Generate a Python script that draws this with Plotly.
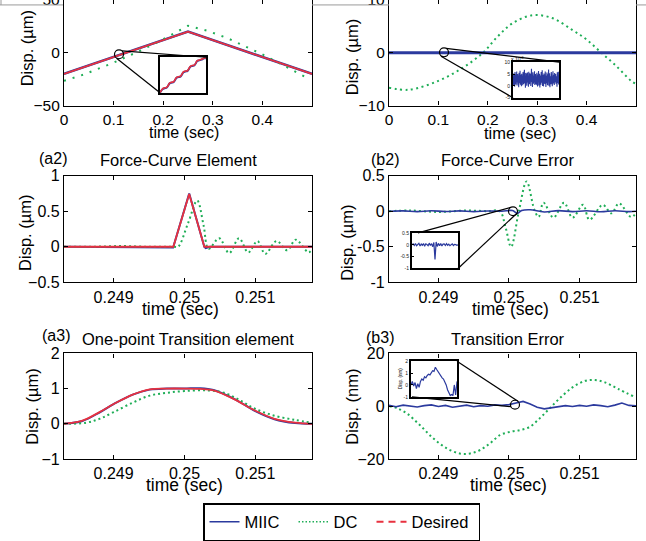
import plotly.graph_objects as go

W, H = 646, 541
def px(x): return x / W
def py(y): return 1 - y / H

BLUE = '#2b3a9e'
GREEN = '#1fae57'
RED = '#e8313f'
FONT = 'Liberation Sans, Arial, Helvetica, sans-serif'

# ---------------- data ----------------
# (a1) triangle reference
t_a1 = [0, 0.25, 0.5]
desired_a1 = [-20, 20, -20]
miic_a1 = [-20, 20, -20]
t_dc_a1 = [0, 0.04, 0.1, 0.15, 0.19, 0.22, 0.24, 0.25, 0.26, 0.29, 0.33, 0.37, 0.40, 0.43, 0.46, 0.49]
dc_a1 = [-26.6, -20.6, -9.3, 1.2, 10.4, 18.3, 23.4, 25.6, 24.4, 20.7, 13.8, 5.2, -1.5, -8.8, -16.1, -23.7]

# (b1) error
t_dc_b1 = [0, 0.04, 0.1, 0.15, 0.19, 0.22, 0.25, 0.29, 0.33, 0.37, 0.40, 0.43, 0.46, 0.49, 0.5]
dc_b1 = [-6.6, -7.0, -5.3, -2.8, 0, 3.1, 5.6, 7.1, 6.6, 4.4, 2.5, 0, -2.5, -5.3, -5.9]
t_miic_b1 = [0, 0.025, 0.05, 0.075, 0.1, 0.125, 0.15, 0.175, 0.2, 0.225, 0.25, 0.275,
             0.3, 0.325, 0.35, 0.375, 0.4, 0.425, 0.45, 0.475, 0.5]
miic_b1 = [0.002, -0.003, 0.004, -0.001, 0.003, -0.004, 0.002, 0.001, -0.003, 0.004, -0.002,
           0.003, -0.001, 0.002, -0.004, 0.003, 0.001, -0.002, 0.004, -0.003, 0.002]

# (a2) force-curve element
t_des_a2 = [0.2483, 0.249843, 0.250067, 0.250281, 0.2518]
desired_a2 = [0, 0, 0.744, 0, 0]
t_miic_a2 = [0.2483, 0.2492, 0.24984, 0.250067, 0.25028, 0.2503, 0.25036, 0.2506, 0.2518]
miic_a2 = [0, 0, -0.01, 0.75, 0, -0.02, 0, 0, 0]
t_dc_a2 = [0.2483, 0.2487, 0.2491, 0.2495, 0.24985, 0.24991, 0.25005, 0.25018, 0.25027, 0.25034,
           0.25049, 0.25063, 0.25077, 0.2509, 0.25103, 0.25114, 0.2513, 0.25145, 0.25157, 0.25175, 0.2518]
dc_a2 = [0, 0, 0.01, 0, 0, 0, 0.33, 0.65, 0.3, -0.03, 0.12, -0.09, 0.12, -0.08, 0.08, -0.1,
         0.08, -0.05, 0.1, -0.08, -0.04]

# (b2) force-curve error
t_dc_b2 = [0.2483, 0.2486, 0.2490, 0.2494, 0.2497, 0.24987, 0.24995, 0.25003, 0.25014, 0.25025,
           0.25036, 0.25042, 0.25049, 0.25063, 0.25078, 0.2509, 0.25105, 0.25114, 0.25133, 0.25145,
           0.25156, 0.25173, 0.2518]
dc_b2 = [0, 0.01, -0.01, 0.01, 0, 0, -0.22, -0.5, 0, 0.42, 0.02, -0.08, 0.12, -0.09, 0.12, -0.09,
         0.09, -0.12, 0.09, -0.03, 0.11, -0.08, -0.03]
t_miic_b2 = [0.2483, 0.2485, 0.2487, 0.2489, 0.2491, 0.2493, 0.2495, 0.2497, 0.2499, 0.25005,
             0.25012, 0.25018, 0.2503, 0.2505, 0.2507, 0.2509, 0.2511, 0.2513, 0.2515, 0.2517, 0.2518]
miic_b2 = [0, 0.005, -0.005, 0.006, -0.004, 0.005, -0.006, 0.004, 0.0, 0.01, -0.03, 0.01,
           0.02, -0.01, 0.008, -0.006, 0.007, -0.008, 0.006, -0.005, 0]

# (a3) one-point transition element
t_des_a3 = [0.2483, 0.24856, 0.2488, 0.249, 0.24927, 0.24951, 0.24975, 0.25, 0.25022, 0.25041,
            0.2507, 0.251, 0.25127, 0.25156, 0.2518]
desired_a3 = [0, 0.09, 0.33, 0.56, 0.83, 0.98, 1.0, 1.0, 0.99, 0.95, 0.7, 0.37, 0.14, 0.03, 0]
miic_a3 = [0, 0.08, 0.32, 0.56, 0.83, 0.97, 1.0, 1.0, 1.01, 0.96, 0.71, 0.36, 0.13, 0.02, 0]
t_dc_a3 = [0.2483, 0.24861, 0.2488, 0.249, 0.24927, 0.24951, 0.24975, 0.25, 0.25032, 0.25056,
           0.2508, 0.251, 0.25127, 0.25156, 0.2518]
dc_a3 = [0, 0.03, 0.14, 0.33, 0.6, 0.8, 0.88, 0.93, 0.95, 0.88, 0.65, 0.42, 0.23, 0.11, 0.03]

# (b3) transition error (nm)
t_dc_b3 = [0.24831, 0.248415, 0.24856, 0.24874, 0.24893, 0.24912, 0.2493, 0.24945, 0.24959, 0.24973,
           0.24987, 0.25001, 0.25015, 0.25029, 0.25043, 0.25057, 0.25071, 0.2509, 0.25108, 0.25122,
           0.25136, 0.25155, 0.25178]
dc_b3 = [0, -0.75, -2.9, -7.25, -12.25, -16, -17.9, -17.9, -16.6, -14.1, -11, -9.75, -9.1, -7.9,
         -4.75, -1, 2.75, 7.1, 9.6, 9.9, 9, 6.5, 3.5]
t_miic_b3 = [0.2483, 0.2484, 0.2485, 0.2486, 0.2487, 0.2488, 0.2489, 0.2490, 0.2491, 0.2492,
             0.2493, 0.2494, 0.2495, 0.2496, 0.2497, 0.2498, 0.2499, 0.2500, 0.2501, 0.2502,
             0.2503, 0.2504, 0.2505, 0.2506, 0.2507, 0.2508, 0.2509, 0.2510, 0.2511, 0.2512,
             0.2513, 0.2514, 0.2515, 0.2516, 0.2517, 0.2518]
miic_b3 = [0.3, -0.2, 0.4, 0.0, -0.3, 0.2, 0.5, -0.1, 0.3, -0.4, 0.1, 0.4, -0.2, 0.2, 0.0, 0.5,
           0.3, 0.6, 1.2, 1.8, 0.8, -0.4, -1.0, -0.6, -0.3, 0.2, -0.1, 0.3, 0.0, 0.5, 0.2, -0.2,
           0.4, 1.2, 0.3, 0.1]

# insets (zoomed views)
ins_a1_x = [0, 0.06, 0.10, 0.15, 0.21, 0.25, 0.30, 0.36, 0.40, 0.45, 0.51, 0.55, 0.60, 0.66,
            0.70, 0.75, 0.81, 0.85, 0.90, 0.96, 1.0]
ins_a1_des = [0.00, 0.12, 0.14, 0.16, 0.28, 0.30, 0.32, 0.44, 0.46, 0.48, 0.60, 0.62, 0.64, 0.76,
              0.78, 0.80, 0.92, 0.94, 0.96, 1.0, 1.0]
ins_a1_miic = [0.00, 0.11, 0.13, 0.15, 0.27, 0.29, 0.31, 0.43, 0.45, 0.47, 0.59, 0.61, 0.63, 0.75,
               0.77, 0.79, 0.91, 0.93, 0.95, 0.99, 0.99]
ins_b1 = [3.1, 0.4, 5.2, 1.0, 4.6, -0.3, 5.8, 2.2, 0.6, 4.9, 1.5, 6.1, 0.2, 3.8, 5.0, 0.9, 4.4,
          -0.6, 5.5, 2.8, 1.1, 6.4, 0.5, 3.3, 4.7, -0.2, 5.1, 1.8, 3.9, 0.3, 5.9, 2.4, 0.8, 4.3,
          6.8, 1.2, 3.6, -0.8, 5.4, 2.0, 4.8, 0.1, 3.0, 5.6, 1.4, 4.1, -0.4, 6.0, 2.6, 0.7, 5.3,
          1.9, 4.5, 0.0, 3.5, 7.2, 1.6, 4.0, -0.5, 5.7, 2.3, 0.9, 4.9, 1.3, 6.2, 0.4, 3.7, 5.0,
          1.0, 4.2, 0.6, 5.5, 2.1, -0.3, 4.8, 1.7, 6.3, 0.2, 3.4, 5.1, -0.7, 4.4, 2.7, 0.5, 5.9,
          1.3, 3.8, 6.6, 0.0, 4.6, 2.2, -0.2, 5.2, 1.5, 3.9, 0.8, 6.1, 2.5, -0.5, 4.3, 1.1, 5.6,
          3.2, 0.3, 4.9, 1.9, 6.9, 0.1, 3.6, 5.3, -0.6, 4.1, 2.4, 0.7, 5.8, 1.4, 4.5, -0.1, 3.0,
          6.2, 1.0, 4.7, 2.0, 0.4, 5.4, 1.6, 3.5, 5.0, 0.9, 4.0, 2.6, -0.4, 5.7, 1.2, 3.3, 6.0,
          0.6, 4.4]
ins_b2 = [0.0, 0.04, -0.03, 0.05, -0.04, 0.02, 0.06, -0.05, 0.03, -0.02, 0.05, -0.06, 0.04, 0.01,
          -0.04, 0.07, -0.03, 0.05, -0.08, 0.10, -0.62, 0.12, -0.07, 0.06, -0.04, 0.05, -0.05,
          0.03, 0.04, -0.03, 0.05, -0.02, 0.03, -0.04, 0.02, 0.04, -0.03, 0.02, 0.01, -0.02, 0.0]
ins_b3 = [0.0, 0.3, -0.1, 0.2, -0.3, 0.1, -0.2, 0.3, 0.5, 0.4, 0.7, 0.6, 0.8, 0.9, 0.85, 1.1,
          1.2, 1.15, 1.5, 1.3, 1.1, 0.9, 0.8, 0.6, 0.5, 0.3, 0.0, -0.4, -0.7, -0.9, -0.8, -0.9,
          0.0, -0.85, 0.3]

x_ticks_top = [0, 0.1, 0.2, 0.3, 0.4]
x_ticks_top_text = ['0', '0.1', '0.2', '0.3', '0.4']
x_ticks_zoom = [0.249, 0.25, 0.251]
x_ticks_zoom_text = ['0.249', '0.25', '0.251']
legend_names = ['MIIC', 'DC', 'Desired']

fig = go.Figure()

def add(n, x, y, color, width, dash='solid', shape='linear'):
    s = '' if n == 1 else str(n)
    fig.add_trace(go.Scatter(x=x, y=y, xaxis='x' + s, yaxis='y' + s, mode='lines',
                             line=dict(color=color, width=width, dash=dash, shape=shape),
                             showlegend=False, hoverinfo='skip'))

# main panels
add(1, t_a1, miic_a1, BLUE, 2.5)
add(1, t_dc_a1, dc_a1, GREEN, 2, '2px,7px')
add(1, t_a1, desired_a1, RED, 1.8)

add(2, t_dc_b1, dc_b1, GREEN, 2, '2px,3.5px', 'spline')
add(2, t_miic_b1, miic_b1, BLUE, 3)

add(3, t_miic_a2, miic_a2, BLUE, 2)
add(3, t_dc_a2, dc_a2, GREEN, 2, '2px,3px', 'spline')
add(3, t_des_a2, desired_a2, RED, 1.8)

add(4, t_dc_b2, dc_b2, GREEN, 2, '2px,3px', 'spline')
add(4, t_miic_b2, miic_b2, BLUE, 1.6, 'solid', 'spline')

add(5, t_des_a3, miic_a3, BLUE, 2, 'solid', 'spline')
add(5, t_dc_a3, dc_a3, GREEN, 2, '2px,3px', 'spline')
add(5, t_des_a3, desired_a3, RED, 1.8, 'solid', 'spline')

add(6, t_dc_b3, dc_b3, GREEN, 2, '2px,3px', 'spline')
add(6, t_miic_b3, miic_b3, BLUE, 1.6)

# insets
add(7, ins_a1_x, ins_a1_miic, BLUE, 2, 'solid', 'spline')
add(7, ins_a1_x, ins_a1_des, RED, 1.6, 'solid', 'spline')
add(8, list(range(len(ins_b1))), ins_b1, BLUE, 1.1)
add(9, list(range(len(ins_b2))), ins_b2, BLUE, 1.2)
add(10, list(range(len(ins_b3))), ins_b3, BLUE, 1.2)

# legend entries (non-breaking spaces give the wider item spacing of the original)
fig.add_trace(go.Scatter(x=[None], y=[None], mode='lines', name=legend_names[0] + '\u00a0\u00a0',
                         line=dict(color=BLUE, width=1.5)))
fig.add_trace(go.Scatter(x=[None], y=[None], mode='lines', name=legend_names[1] + '\u00a0\u00a0',
                         line=dict(color=GREEN, width=1.5, dash='1.5px,2px')))
fig.add_trace(go.Scatter(x=[None], y=[None], mode='lines', name=legend_names[2] + '\u00a0',
                         line=dict(color=RED, width=2, dash='7px,5px')))

def main_axis(dom, rng, tv, tt, anchor, tfs=15.5, overflow=None):
    d = dict(domain=dom, range=rng, tickvals=tv, ticktext=tt, anchor=anchor,
             showline=True, linecolor='black', linewidth=1.3, mirror='allticks',
             ticks='inside', ticklen=4, tickcolor='black', tickwidth=1,
             showgrid=False, zeroline=False, fixedrange=True, automargin=False,
             tickfont=dict(size=tfs, color='black', family=FONT))
    if overflow:
        d['ticklabeloverflow'] = overflow
    return d

def inset_axis(dom, rng, anchor, tv=None, tt=None):
    d = dict(domain=dom, range=rng, anchor=anchor, showline=True, linecolor='black',
             linewidth=2, mirror=True, showgrid=False, zeroline=False, fixedrange=True,
             automargin=False)
    if tv is None:
        d.update(showticklabels=False, ticks='')
    else:
        d.update(tickvals=tv, ticktext=tt, ticks='inside', ticklen=2, tickcolor='black',
                 tickfont=dict(size=5, color='#222', family=FONT))
    return d

LX = [px(64), px(312)]
RX = [px(389), px(636)]
R1 = [py(107), 1]
R2 = [py(286), py(178)]
R3 = [py(465), py(358)]
ZR = [0.2483, 0.2518]

layout = dict(
    width=W, height=H, autosize=False, margin=dict(l=0, r=0, t=0, b=0, pad=0),
    paper_bgcolor='white', plot_bgcolor='white',
    font=dict(family=FONT, color='black'),
    xaxis=main_axis(LX, [0, 0.5], x_ticks_top, x_ticks_top_text, 'y'),
    yaxis=main_axis(R1, [-50, 50], [-50, 0, 50], ['\u221250', '0', '50'], 'x', overflow='allow'),
    xaxis2=main_axis(RX, [0, 0.5], x_ticks_top, x_ticks_top_text, 'y2'),
    yaxis2=main_axis(R1, [-10, 10], [-10, 0, 10], ['\u221210', '0', '10'], 'x2', overflow='allow'),
    xaxis3=main_axis(LX, ZR, x_ticks_zoom, x_ticks_zoom_text, 'y3', 16),
    yaxis3=main_axis(R2, [-0.5, 1], [-0.5, 0, 0.5, 1], ['\u22120.5', '0', '0.5', '1'], 'x3', 16),
    xaxis4=main_axis(RX, ZR, x_ticks_zoom, x_ticks_zoom_text, 'y4', 16),
    yaxis4=main_axis(R2, [-1, 0.5], [-1, -0.5, 0, 0.5], ['-1', '-0.5', '0', '0.5'], 'x4', 16),
    xaxis5=main_axis(LX, ZR, x_ticks_zoom, x_ticks_zoom_text, 'y5', 16),
    yaxis5=main_axis(R3, [-1, 2], [-1, 0, 1, 2], ['\u22121', '0', '1', '2'], 'x5', 16),
    xaxis6=main_axis(RX, ZR, x_ticks_zoom, x_ticks_zoom_text, 'y6', 16),
    yaxis6=main_axis(R3, [-20, 20], [-20, 0, 20], ['\u221220', '0', '20'], 'x6', 16),
    xaxis7=inset_axis([px(160), px(206)], [0, 1], 'y7'),
    yaxis7=inset_axis([py(94), py(58)], [0, 1.02], 'x7'),
    xaxis8=inset_axis([px(513), px(559)], [0, len(ins_b1) - 1], 'y8'),
    yaxis8=inset_axis([py(99), py(63)], [-5, 10], 'x8', [-5, 0, 5, 10], ['-5', '0', '5', '10']),
    xaxis9=inset_axis([px(412), px(458)], [0, len(ins_b2) - 1], 'y9'),
    yaxis9=inset_axis([py(272), py(236)], [-1, 0.5], 'x9', [-1, -0.5, 0, 0.5], ['-1', '-0.5', '0', '0.5']),
    xaxis10=inset_axis([px(411), px(457)], [0, len(ins_b3) - 1], 'y10'),
    yaxis10=inset_axis([py(402), py(366)], [-1, 2], 'x10', [-1, 0, 1, 2], ['-1', '0', '1', '2']),
    legend=dict(orientation='h', x=px(203), y=py(510), xanchor='left', yanchor='top',
                bordercolor='black', borderwidth=1.5, bgcolor='white',
                font=dict(size=16.5, family=FONT, color='black'),
                itemwidth=30, tracegroupgap=0,
                itemclick=False, itemdoubleclick=False),
    showlegend=True,
)

shapes = []
# white backgrounds of insets (below inset traces, above main traces)
shapes.append(dict(type='rect', xref='x7', yref='y7', x0=0, x1=1, y0=0, y1=1.02, fillcolor='white', line=dict(width=0), layer='below'))
shapes.append(dict(type='rect', xref='x8', yref='y8', x0=0, x1=len(ins_b1) - 1, y0=-5, y1=10, fillcolor='white', line=dict(width=0), layer='below'))
shapes.append(dict(type='rect', xref='x9', yref='y9', x0=0, x1=len(ins_b2) - 1, y0=-1, y1=0.5, fillcolor='white', line=dict(width=0), layer='below'))
shapes.append(dict(type='rect', xref='x10', yref='y10', x0=0, x1=len(ins_b3) - 1, y0=-1, y1=2, fillcolor='white', line=dict(width=0), layer='below'))

def circ(cx, cy, r=4.5):
    shapes.append(dict(type='circle', xref='paper', yref='paper', x0=px(cx - r), x1=px(cx + r),
                       y0=py(cy + r), y1=py(cy - r), line=dict(color='black', width=1.2), layer='above'))

def seg(x0, y0, x1, y1, color='black', w=1.2):
    shapes.append(dict(type='line', xref='paper', yref='paper', x0=px(x0), y0=py(y0), x1=px(x1), y1=py(y1),
                       line=dict(color=color, width=w), layer='above'))

circ(119, 55); seg(122, 51.5, 206, 58); seg(116.5, 59, 160, 94)
circ(444, 53); seg(446, 49, 559, 63); seg(441, 57, 513, 99)
circ(513, 214); seg(511, 210, 418, 236); seg(517, 216, 458, 272)
circ(515, 410); seg(518, 406.5, 457, 366); seg(511, 412, 412, 402)

# grey frame line at the top of the figure
for a, b in [(0, 63), (312, 389), (636, 646)]:
    seg(a, 5, b, 5, '#9a9a9a', 1)
seg(1, 0, 1, 5, '#9a9a9a', 1)

layout['shapes'] = shapes

ann = []
def text(t, x, y, size=16.5, angle=0, **kw):
    ann.append(dict(text=t, x=px(x), y=py(y), xref='paper', yref='paper', showarrow=False,
                    xanchor='center', yanchor='middle', textangle=angle,
                    font=dict(size=size, family=FONT, color='black'), **kw))

text('(a2)', 53, 161, 16)
text('Force-Curve Element', 178, 162)
text('(b2)', 385, 162, 16)
text('Force-Curve Error', 507, 162)
text('(a3)', 56, 340, 16)
text('One-point Transition element', 188, 343)
text('(b3)', 380, 342, 16)
text('Transition Error', 508, 343)

text('Disp. (\u00b5m)', 27, 49, 16.5, -90)
text('Disp. (\u00b5m)', 352, 58, 16.5, -90)
text('Disp. (\u00b5m)', 25, 236, 16.5, -90)
text('Disp. (\u00b5m)', 347, 246, 16.5, -90)
text('Disp. (\u00b5m)', 32, 412, 16.5, -90)
text('Disp. (nm)', 352, 412, 16.5, -90)

text('time (sec)', 184, 134, 16)
text('time (sec)', 520, 135, 16.5)
text('time (sec)', 180, 313, 17.5)
text('time (sec)', 510, 313, 17.5)
text('time (sec)', 184, 491, 17.5)
text('time (sec)', 508, 491, 17.5)

# inset decorations
text('x 10<sup>-3</sup>', 517, 59.5, 5)
text('Disp. (nm)', 400, 384, 4.5, -90)

layout['annotations'] = ann
fig.update_layout(**layout)
fig.write_html('out.html', config={'displayModeBar': False},
               post_script="document.body.style.margin='0';document.body.style.overflow='hidden';")
